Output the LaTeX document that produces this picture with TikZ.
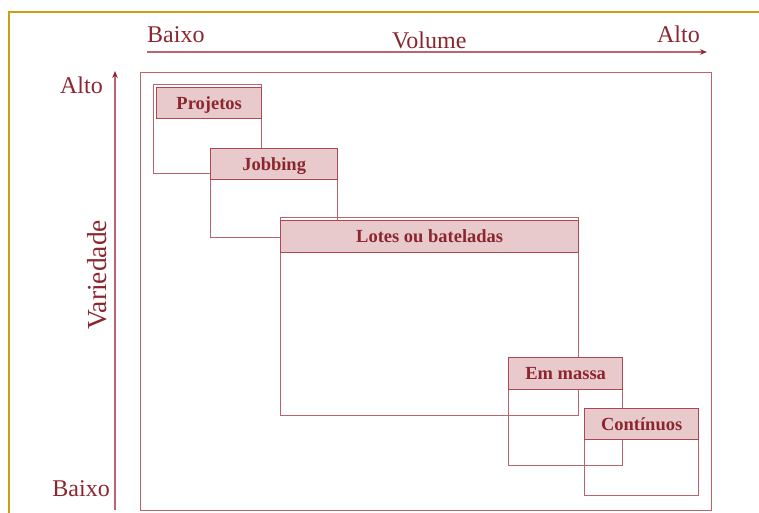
\documentclass[tikz,border=0pt]{standalone}
\usepackage{fontspec}
\setmainfont{Liberation Serif}
\usetikzlibrary{arrows.meta}

\definecolor{txtred}{RGB}{140,38,46}
\definecolor{linered}{RGB}{188,100,110}
\definecolor{hdrline}{RGB}{172,72,82}
\definecolor{hdrfill}{RGB}{232,202,205}
\definecolor{framegold}{RGB}{208,156,20}

\tikzset{
  axislabel/.style={text=txtred, inner sep=0pt, font=\fontsize{24}{26}\selectfont},
  axisline/.style={draw=linered, line width=1.3pt, -{Stealth[length=7pt,width=5.5pt,color=txtred]}},
  bodybox/.style={draw=linered, line width=1.3pt, inner sep=0pt, anchor=north west},
  headbox/.style={draw=hdrline, line width=1.3pt, fill=hdrfill, inner sep=0pt, anchor=north west,
    text=txtred, font=\bfseries\fontsize{18.5}{20}\selectfont, text height=13pt, text depth=1pt},
  outerbox/.style={draw=linered, line width=1.3pt}
}

\begin{document}
\begin{tikzpicture}[x=1pt,y=-1pt]
\useasboundingbox (0,0) rectangle (759,513);

% page frame
\draw[framegold, line width=2pt] (9,514) -- (9,12) -- (760,12);

% axes
\coordinate (vol0) at (147,52);
\coordinate (vol1) at (707,52);
\draw[axisline] (vol0) -- (vol1);
\coordinate (var0) at (115,510);
\coordinate (var1) at (115,71);
\draw[axisline] (var0) -- (var1);

\node[axislabel, anchor=base west] (volLow) at (147,43) {Baixo};
\node[axislabel, anchor=base west] (volName) at (392,49) {Volume};
\node[axislabel, anchor=base east] (volHigh) at (700,43) {Alto};
\node[axislabel, anchor=base east] (varHigh) at (103,94) {Alto};
\node[axislabel, anchor=base east] (varLow) at (110,496) {Baixo};
\node[axislabel, font=\fontsize{27.5}{29}\selectfont, rotate=90, anchor=base] (varName) at (106,275) {Variedade};

% outer field
\node[outerbox, inner sep=0pt, anchor=north west, minimum width=571pt, minimum height=438pt] (field) at (140,72) {};

% Projetos
\node[bodybox, minimum width=108pt, minimum height=89pt] (projB) at (153,84) {};
\node[headbox, minimum width=105pt, minimum height=31pt] (projH) at (156,87) {Projetos};

% Jobbing
\node[bodybox, minimum width=127pt, minimum height=89pt] (jobB) at (210,148) {};
\node[headbox, minimum width=127pt, minimum height=31pt] (jobH) at (210,148) {Jobbing};

% Lotes ou bateladas
\node[bodybox, minimum width=298pt, minimum height=198pt] (lotB) at (280,217) {};
\node[headbox, minimum width=298pt, minimum height=32pt] (lotH) at (280,220) {Lotes ou bateladas};

% Em massa
\node[bodybox, minimum width=114pt, minimum height=108pt] (massB) at (508,357) {};
\node[headbox, minimum width=114pt, minimum height=32pt] (massH) at (508,357) {Em massa};

% Contínuos
\node[bodybox, minimum width=114pt, minimum height=87pt] (contB) at (584,408) {};
\node[headbox, minimum width=114pt, minimum height=31pt] (contH) at (584,408) {Contínuos};
\end{tikzpicture}
\end{document}
